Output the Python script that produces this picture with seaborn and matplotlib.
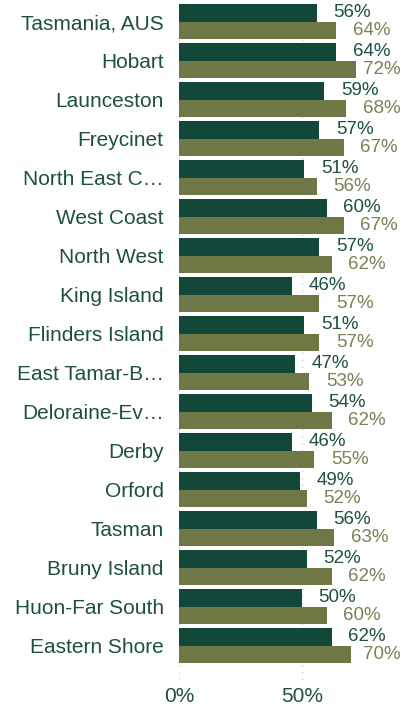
import matplotlib
matplotlib.use("Agg")
import matplotlib.pyplot as plt
import seaborn as sns
import pandas as pd

regions = ["Tasmania, AUS", "Hobart", "Launceston", "Freycinet", "North East C\u2026",
           "West Coast", "North West", "King Island", "Flinders Island", "East Tamar-B\u2026",
           "Deloraine-Ev\u2026", "Derby", "Orford", "Tasman", "Bruny Island",
           "Huon-Far South", "Eastern Shore"]
series_a = [56, 64, 59, 57, 51, 60, 57, 46, 51, 47, 54, 46, 49, 56, 52, 50, 62]
series_b = [64, 72, 68, 67, 56, 67, 62, 57, 57, 53, 62, 55, 52, 63, 62, 60, 70]
series_names = ["A", "B"]
x_ticks = [0, 50]

dark = "#12473a"
olive = "#6f7744"
dark_text = "#1d5040"
olive_text = "#7b8055"
grid_col = "#c9cbb8"

df = pd.DataFrame({
    "region": regions * 2,
    "value": series_a + series_b,
    "series": [series_names[0]] * len(regions) + [series_names[1]] * len(regions),
})

sns.set_theme(style="white")
plt.rcParams["font.family"] = ["Liberation Sans", "DejaVu Sans"]

fig = plt.figure(figsize=(4.12, 7.09), dpi=100)
ax = fig.add_axes([179 / 412, 29 / 709, 1 - 179 / 412, 678 / 709])

for xv in x_ticks:
    ax.axvline(xv, color=grid_col, linestyle=(0, (1, 4)), linewidth=1, zorder=0)

sns.barplot(data=df, y="region", x="value", hue="series", orient="h",
            palette=[dark, olive], width=0.9, ax=ax, legend=False,
            saturation=1, zorder=2, linewidth=0, edgecolor="none")

value_labels = []
for cont, col in zip(ax.containers, [dark_text, olive_text]):
    labels = [f"{int(round(v))}%" for v in cont.datavalues]
    value_labels += ax.bar_label(cont, labels=labels, padding=12, color=col, fontsize=13.5)

ax.set_xlim(0, (412 - 179) / 2.46)
ax.set_ylim(16.5 + 15 / 39, -0.5)
ax.set_xticks(x_ticks)
ax.set_xticklabels([f"{t}%" for t in x_ticks])
ax.set_xlabel("")
ax.set_ylabel("")
ax.tick_params(axis="x", length=0, labelsize=15, colors=dark_text, pad=5)
ax.tick_params(axis="y", length=0, labelsize=15, colors=dark_text, pad=11)
for s in ax.spines.values():
    s.set_visible(False)

# keep value labels inside the right margin
fig.canvas.draw()
renderer = fig.canvas.get_renderer()
right_limit = 401
for ann in value_labels:
    bb = ann.get_window_extent(renderer)
    if bb.x1 > right_limit:
        dx_pts = (bb.x1 - right_limit) * 72 / fig.dpi
        ox, oy = ann.xyann
        ann.xyann = (ox - dx_pts, oy)

fig.savefig("out.png", dpi=100)
